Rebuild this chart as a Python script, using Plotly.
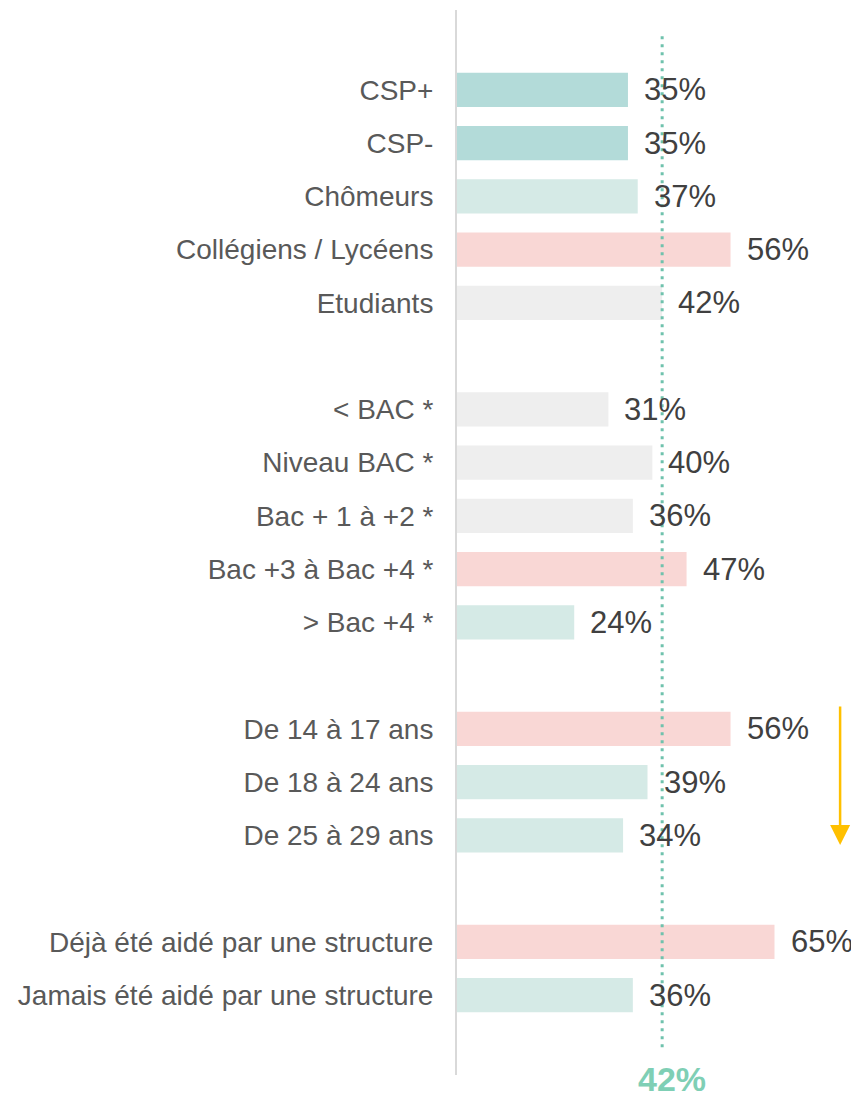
import plotly.graph_objects as go

# categories (spacer rows are blank strings of different length)
categories = [
    "CSP+", "CSP-", "Chômeurs", "Collégiens / Lycéens", "Etudiants",
    " ",
    "< BAC *", "Niveau BAC *", "Bac + 1 à +2 *", "Bac +3 à Bac +4 *", "> Bac +4 *",
    "  ",
    "De 14 à 17 ans", "De 18 à 24 ans", "De 25 à 29 ans",
    "   ",
    "Déjà été aidé par une structure", "Jamais été aidé par une structure",
]
values = [35, 35, 37, 56, 42, None, 31, 40, 36, 47, 24, None, 56, 39, 34, None, 65, 36]
groups = ["teal", "teal", "light", "pink", "grey", None,
          "grey", "grey", "grey", "pink", "light", None,
          "pink", "light", "light", None,
          "pink", "light"]
average = 42

palette = {"teal": "#b3dbd9", "light": "#d5eae6", "pink": "#f9d7d5", "grey": "#eeeeee", None: "white"}
text_color = "#404040"
label_color = "#595959"
FONT = "Arial"

fig = go.Figure()
fig.add_trace(go.Bar(
    x=[v if v is not None else 0 for v in values],
    y=categories,
    orientation="h",
    marker=dict(color=[palette[g] for g in groups], line=dict(width=0)),
    hoverinfo="skip",
))

# value labels
for cat, v in zip(categories, values):
    if v is None:
        continue
    fig.add_annotation(
        x=v, y=cat, text=f"{v}%", showarrow=False,
        xanchor="left", xshift=14,
        font=dict(size=31, color=text_color, family=FONT),
    )

# average dotted line
fig.add_shape(
    type="line", x0=average, x1=average, xref="x",
    y0=0.026, y1=0.977, yref="paper",
    line=dict(color="#6fc2ad", width=3, dash="3px,5px"),
)
fig.add_annotation(
    x=average, y=0, xref="x", yref="paper", text=f"<b>{average}%</b>",
    showarrow=False, yanchor="middle", yshift=-4, xshift=10,
    font=dict(size=34, color="#7fcfb5", family=FONT),
)

# orange arrow
fig.add_annotation(
    x=0.953, y=0.216, xref="paper", yref="paper",
    ax=0, ay=-140, axref="pixel", ayref="pixel",
    showarrow=True, arrowhead=2, arrowsize=1.6, arrowwidth=2.5,
    arrowcolor="#ffc000", text="",
)

# page body has an 8px margin, so the figure is 8px smaller than the window
fig.update_layout(
    width=851, height=1091,
    margin=dict(l=449, r=0, t=2, b=24),
    plot_bgcolor="white", paper_bgcolor="white",
    bargap=0.36,
    showlegend=False,
    font=dict(family=FONT, color=text_color),
)
fig.update_xaxes(range=[0, 82.3], visible=False, showgrid=False, zeroline=False)
fig.update_yaxes(
    categoryorder="array", categoryarray=categories, range=[18.5, -1.5],
    showline=True, linecolor="#d9d9d9", linewidth=2, automargin=False,
    showgrid=False, ticks="", ticklabelstandoff=16,
    tickfont=dict(size=28, color=label_color, family=FONT),
)

fig.write_html("out.html")
